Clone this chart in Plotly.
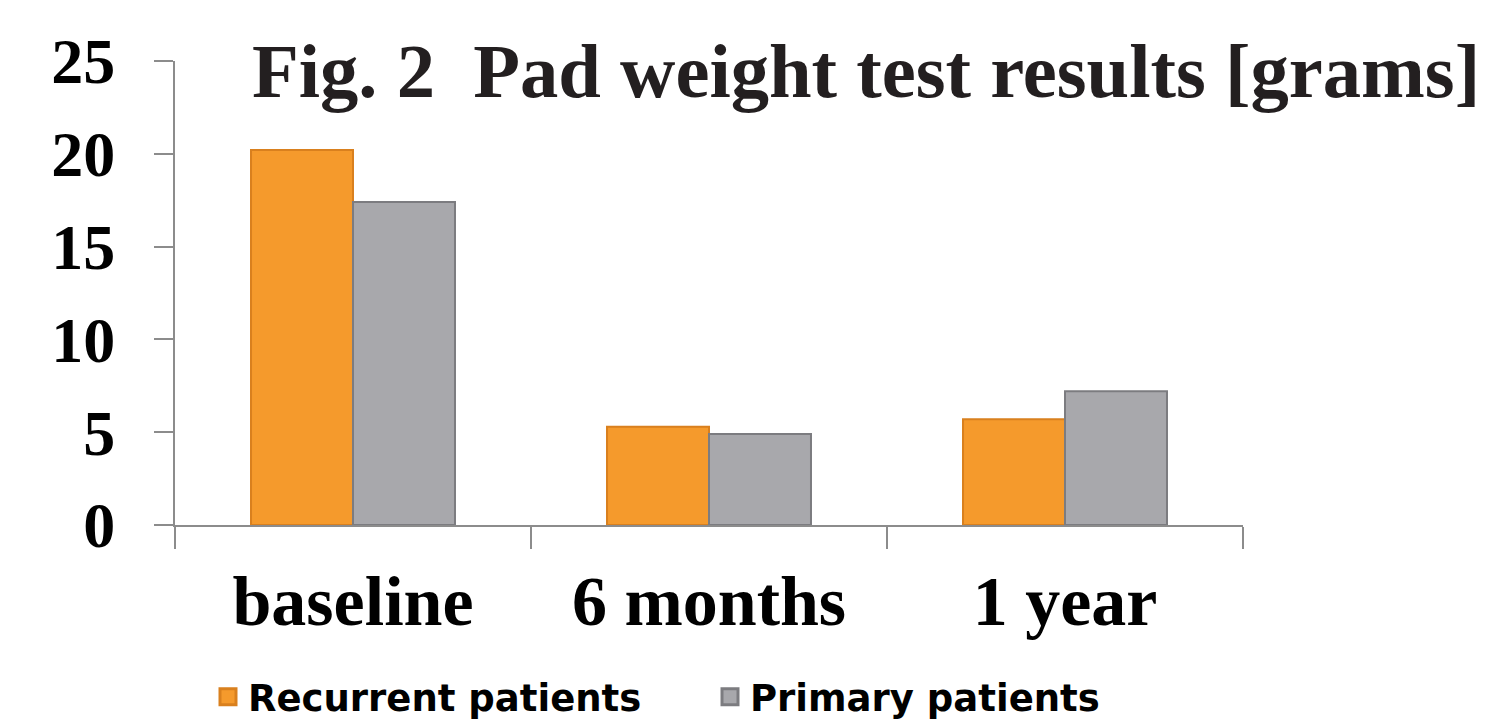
import plotly.graph_objects as go

categories = ["baseline", "6 months", "1 year"]
recurrent = [20.2, 5.3, 5.7]
primary = [17.4, 4.9, 7.2]
series_names = ["Recurrent patients", "Primary patients"]
y_ticks = [0, 5, 10, 15, 20, 25]

orange = "#F59A2C"
orange_edge = "#D9801E"
gray = "#A8A8AC"
gray_edge = "#7C7C80"

fig = go.Figure()
fig.add_trace(go.Bar(x=categories, y=recurrent, name=series_names[0], showlegend=False,
                     marker=dict(color=orange, line=dict(color=orange_edge, width=2))))
fig.add_trace(go.Bar(x=categories, y=primary, name=series_names[1], showlegend=False,
                     marker=dict(color=gray, line=dict(color=gray_edge, width=2))))
# legend entries
fig.add_trace(go.Scatter(x=[None], y=[None], mode="markers", name=series_names[0],
                         marker=dict(symbol="square", size=16, color=orange,
                                     line=dict(color=orange_edge, width=3))))
fig.add_trace(go.Scatter(x=[None], y=[None], mode="markers", name=series_names[1],
                         marker=dict(symbol="square", size=16, color=gray,
                                     line=dict(color=gray_edge, width=3))))

axis_gray = "#8C8C8C"
fig.update_layout(
    width=1494, height=728,
    margin=dict(l=175, r=251, t=61, b=202.5, pad=0, autoexpand=False),
    paper_bgcolor="white", plot_bgcolor="white",
    barmode="group", bargap=0.427, bargroupgap=0,
    title=dict(text="Fig. 2\u00a0 Pad weight test results [grams]",
               font=dict(family="Liberation Serif", size=76.6, color="#231F20", weight="bold"),
               x=252/1494, xanchor="left", xref="container",
               y=1-43/728, yanchor="top", yref="container"),
    xaxis=dict(type="category", showline=True, linecolor=axis_gray, linewidth=2,
               ticks="outside", tickson="boundaries", ticklen=22, tickwidth=2, tickcolor=axis_gray,
               showgrid=False, zeroline=False, automargin=False,
               tickfont=dict(family="Liberation Serif", size=70, color="black", weight="bold"),
               ticklabelstandoff=14),
    yaxis=dict(range=[0, 25], tickvals=y_ticks, showline=True, linecolor=axis_gray, linewidth=2,
               ticks="outside", ticklen=19, tickwidth=2, tickcolor=axis_gray,
               showgrid=False, zeroline=False, automargin=False,
               tickfont=dict(family="Liberation Serif", size=64, color="black", weight="bold"),
               ticklabelstandoff=26),
    legend=dict(orientation="h", x=(208-175)/1068, xanchor="left", y=(525.5-698)/464.5,
                yanchor="middle", entrywidth=457, entrywidthmode="pixels",
                font=dict(family="DejaVu Sans", size=37, color="black", weight="bold"),
                bgcolor="rgba(0,0,0,0)", borderwidth=0),
)

fig.write_html("out.html", config={"displayModeBar": False},
               post_script="document.body.style.margin='0';")
